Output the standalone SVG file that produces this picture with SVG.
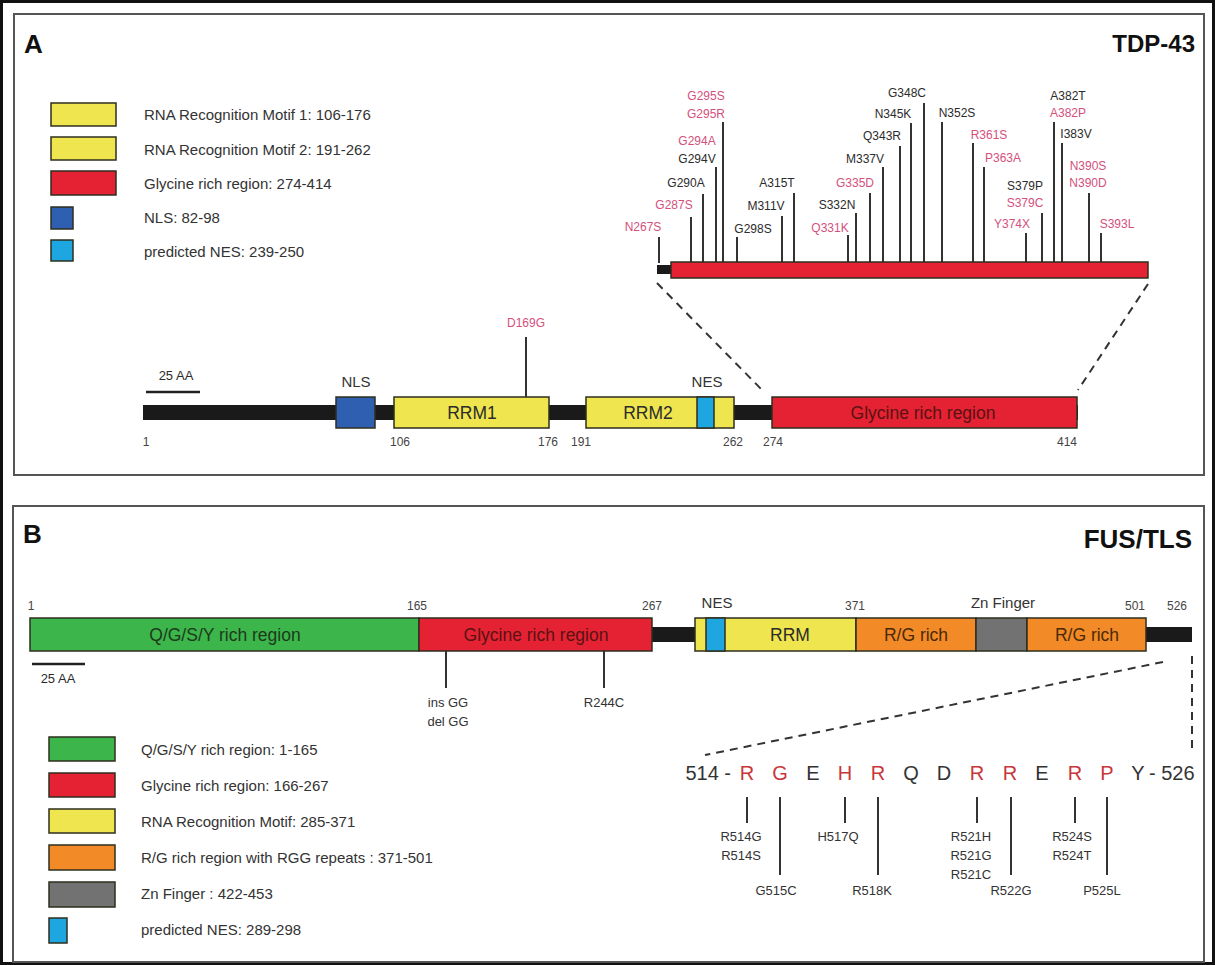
<svg xmlns="http://www.w3.org/2000/svg" width="1215" height="965" viewBox="0 0 1215 965">
<defs>
<style>
text{font-family:"Liberation Sans",Arial,sans-serif;fill:#2b2b2b}
.title{font-weight:bold;font-size:26px;fill:#111}
.leg{font-size:15px;fill:#333}
.box{stroke:#2e2e1e;stroke-width:1.5}
.yel{fill:#efe54f}
.red{fill:#e42233}
.blu{fill:#2f5fb0}
.cya{fill:#1ea6e0}
.grn{fill:#3cb54a}
.org{fill:#f28a28}
.gry{fill:#727272}
.blk{fill:#1a1a1a}
.dlab{font-size:17.5px;text-anchor:middle}
.num{font-size:12px;text-anchor:middle;fill:#444}
.lab{font-size:15px;text-anchor:middle;fill:#333}
.mA{font-size:12px;text-anchor:middle;fill:#2b2b2b}
.pk{fill:#d4507c}
.mB{font-size:13px;text-anchor:middle;fill:#333}
.seq{font-size:20px;text-anchor:middle;fill:#333}
.sr{fill:#c8363c}
.ml{stroke:#333;stroke-width:2;fill:none}
.dash{stroke:#333;stroke-width:2;stroke-dasharray:8 6;fill:none}
</style>
</defs>
<rect width="1215" height="965" fill="#fff"/>
<g id="frames" fill="none">
<rect x="1.5" y="1.5" width="1212" height="962" stroke="#111" stroke-width="3"/>
<rect x="14" y="14" width="1190" height="461" stroke="#555" stroke-width="2"/>
<rect x="13" y="506" width="1191" height="456" stroke="#555" stroke-width="2"/>
</g>
<g id="titles">
<text class="title" x="24" y="53">A</text>
<text class="title" x="1195" y="52" style="text-anchor:end;font-size:24px">TDP-43</text>
<text class="title" x="23" y="543">B</text>
<text class="title" x="1192" y="548" style="text-anchor:end">FUS/TLS</text>
</g>
<g id="legendA">
<g id="legA-rrm1"><rect class="box yel" x="51" y="103" width="65" height="23"/><text class="leg" x="144" y="120">RNA Recognition Motif 1: 106-176</text></g>
<g id="legA-rrm2"><rect class="box yel" x="51" y="137" width="65" height="23"/><text class="leg" x="144" y="155">RNA Recognition Motif 2: 191-262</text></g>
<g id="legA-gly"><rect class="box red" x="51" y="171" width="65" height="24"/><text class="leg" x="144" y="189">Glycine rich region: 274-414</text></g>
<g id="legA-nls"><rect class="box blu" x="51" y="207" width="22" height="22"/><text class="leg" x="144" y="223">NLS: 82-98</text></g>
<g id="legA-nes"><rect class="box cya" x="51" y="240" width="22" height="21"/><text class="leg" x="144" y="257">predicted NES: 239-250</text></g>
</g>
<g id="connectors">
<line class="ml" x1="526" y1="337" x2="526" y2="397"/>
<line class="dash" x1="657" y1="283" x2="764" y2="392"/>
<line class="dash" x1="1148" y1="284" x2="1078" y2="390"/>
<line class="ml" x1="659" y1="237" x2="659" y2="263"/>
<line class="ml" x1="691" y1="217" x2="691" y2="263"/>
<line class="ml" x1="703" y1="194" x2="703" y2="263"/>
<line class="ml" x1="716" y1="167" x2="716" y2="263"/>
<line class="ml" x1="723" y1="122" x2="723" y2="263"/>
<line class="ml" x1="737" y1="237" x2="737" y2="263"/>
<line class="ml" x1="782" y1="216" x2="782" y2="263"/>
<line class="ml" x1="794" y1="193" x2="794" y2="263"/>
<line class="ml" x1="848" y1="235" x2="848" y2="263"/>
<line class="ml" x1="856" y1="213" x2="856" y2="263"/>
<line class="ml" x1="870" y1="193" x2="870" y2="263"/>
<line class="ml" x1="883" y1="167" x2="883" y2="263"/>
<line class="ml" x1="900" y1="146" x2="900" y2="263"/>
<line class="ml" x1="911" y1="123" x2="911" y2="263"/>
<line class="ml" x1="924" y1="103" x2="924" y2="263"/>
<line class="ml" x1="942" y1="122" x2="942" y2="263"/>
<line class="ml" x1="973" y1="143" x2="973" y2="263"/>
<line class="ml" x1="984" y1="167" x2="984" y2="263"/>
<line class="ml" x1="1026" y1="233" x2="1026" y2="263"/>
<line class="ml" x1="1042" y1="213" x2="1042" y2="263"/>
<line class="ml" x1="1054" y1="122" x2="1054" y2="263"/>
<line class="ml" x1="1062" y1="143" x2="1062" y2="263"/>
<line class="ml" x1="1089" y1="193" x2="1089" y2="263"/>
<line class="ml" x1="1101" y1="233" x2="1101" y2="263"/>
<line class="ml" x1="446" y1="651" x2="446" y2="688"/>
<line class="ml" x1="604" y1="651" x2="604" y2="688"/>
<line class="dash" x1="1163" y1="662" x2="705" y2="755"/>
<line class="dash" x1="1192" y1="656" x2="1192" y2="753"/>
<line class="ml" x1="747" y1="797" x2="747" y2="823"/>
<line class="ml" x1="780" y1="797" x2="780" y2="875"/>
<line class="ml" x1="845" y1="797" x2="845" y2="823"/>
<line class="ml" x1="878" y1="797" x2="878" y2="875"/>
<line class="ml" x1="977" y1="797" x2="977" y2="823"/>
<line class="ml" x1="1011" y1="797" x2="1011" y2="875"/>
<line class="ml" x1="1075" y1="797" x2="1075" y2="823"/>
<line class="ml" x1="1107" y1="797" x2="1107" y2="875"/>
</g>
<g id="tdp43-protein">
<rect class="blk" x="143" y="405" width="935" height="15"/>
<g id="nls"><rect class="box blu" x="336" y="397" width="39" height="31"/><text class="lab" x="356" y="387">NLS</text></g>
<g id="rrm1"><rect class="box yel" x="394" y="397" width="155" height="31"/><text class="dlab" x="472" y="419">RRM1</text></g>
<g id="rrm2"><rect class="box yel" x="586" y="397" width="148" height="31"/><rect class="box cya" x="697" y="397" width="17" height="31"/><text class="dlab" x="648" y="419">RRM2</text><text class="lab" x="707" y="387">NES</text></g>
<g id="glyA"><rect class="box red" x="772" y="397" width="305" height="31"/><text class="dlab" x="923" y="419" style="fill:#5a1212">Glycine rich region</text></g>
<g id="scaleA"><line x1="146" y1="392" x2="200" y2="392" stroke="#222" stroke-width="2.5"/><text x="176" y="380" font-size="13" text-anchor="middle">25 AA</text></g>
<g id="numsA">
<text class="num" x="146" y="446">1</text>
<text class="num" x="400" y="446">106</text>
<text class="num" x="548" y="446">176</text>
<text class="num" x="581" y="446">191</text>
<text class="num" x="733" y="446">262</text>
<text class="num" x="773" y="446">274</text>
<text class="num" x="1067" y="446">414</text>
</g>
<g id="d169g"><text class="mA pk" x="526" y="327">D169G</text></g>
</g>
<g id="tdp43-zoom">
<rect class="blk" x="657" y="265" width="15" height="9"/>
<rect class="box red" x="671" y="262" width="477" height="16"/>
<g id="mutsA">
<text class="mA pk" x="643" y="231">N267S</text>
<text class="mA pk" x="674" y="209">G287S</text>
<text class="mA" x="686" y="187">G290A</text>
<text class="mA pk" x="697" y="145">G294A</text>
<text class="mA" x="697" y="163">G294V</text>
<text class="mA pk" x="706" y="100">G295S</text>
<text class="mA pk" x="706" y="118">G295R</text>
<text class="mA" x="753" y="233">G298S</text>
<text class="mA" x="766" y="210">M311V</text>
<text class="mA" x="777" y="187">A315T</text>
<text class="mA pk" x="830" y="232">Q331K</text>
<text class="mA" x="837" y="209">S332N</text>
<text class="mA pk" x="855" y="187">G335D</text>
<text class="mA" x="865" y="163">M337V</text>
<text class="mA" x="882" y="140">Q343R</text>
<text class="mA" x="893" y="118">N345K</text>
<text class="mA" x="907" y="97">G348C</text>
<text class="mA" x="957" y="117">N352S</text>
<text class="mA pk" x="989" y="139">R361S</text>
<text class="mA pk" x="1003" y="162">P363A</text>
<text class="mA pk" x="1012" y="228">Y374X</text>
<text class="mA" x="1025" y="190">S379P</text>
<text class="mA pk" x="1025" y="207">S379C</text>
<text class="mA" x="1068" y="100">A382T</text>
<text class="mA pk" x="1068" y="117">A382P</text>
<text class="mA" x="1076" y="138">I383V</text>
<text class="mA pk" x="1088" y="170">N390S</text>
<text class="mA pk" x="1088" y="187">N390D</text>
<text class="mA pk" x="1117" y="228">S393L</text>
</g>
</g>
<g id="fus-protein">
<rect class="blk" x="30" y="627" width="1162" height="15"/>
<g id="qgsy"><rect class="box grn" x="30" y="618" width="389" height="33"/><text class="dlab" x="225" y="641" style="fill:#1d3a1d">Q/G/S/Y rich region</text></g>
<g id="glyB"><rect class="box red" x="419" y="618" width="233" height="33"/><text class="dlab" x="536" y="641" style="fill:#5a1212">Glycine rich region</text></g>
<g id="rrmB"><rect class="box yel" x="695" y="618" width="161" height="33"/><rect class="box cya" x="706" y="618" width="19" height="33"/><text class="dlab" x="790" y="641">RRM</text><text class="lab" x="717" y="608">NES</text></g>
<g id="rg1"><rect class="box org" x="856" y="618" width="120" height="33"/><text class="dlab" x="916" y="641" style="fill:#4a2a05">R/G rich</text></g>
<g id="zn"><rect class="box gry" x="976" y="618" width="51" height="33"/><text class="lab" x="1003" y="608">Zn Finger</text></g>
<g id="rg2"><rect class="box org" x="1027" y="618" width="119" height="33"/><text class="dlab" x="1087" y="641" style="fill:#4a2a05">R/G rich</text></g>
<g id="scaleB"><line x1="32" y1="664" x2="85" y2="664" stroke="#222" stroke-width="2.5"/><text x="58" y="683" font-size="13" text-anchor="middle">25 AA</text></g>
<g id="numsB">
<text class="num" x="31" y="610">1</text>
<text class="num" x="417" y="610">165</text>
<text class="num" x="652" y="610">267</text>
<text class="num" x="855" y="610">371</text>
<text class="num" x="1135" y="610">501</text>
<text class="num" x="1177" y="610">526</text>
</g>
<g id="mutsB">
<text class="mB" x="448" y="707">ins GG</text>
<text class="mB" x="448" y="726">del GG</text>
<text class="mB" x="604" y="707">R244C</text>
</g>
</g>
<g id="legendB">
<g id="legB-qgsy"><rect class="box grn" x="49" y="737" width="66" height="24"/><text class="leg" x="141" y="755">Q/G/S/Y rich region: 1-165</text></g>
<g id="legB-gly"><rect class="box red" x="49" y="773" width="66" height="24"/><text class="leg" x="141" y="791">Glycine rich region: 166-267</text></g>
<g id="legB-rrm"><rect class="box yel" x="49" y="809" width="66" height="24"/><text class="leg" x="141" y="827">RNA Recognition Motif: 285-371</text></g>
<g id="legB-rg"><rect class="box org" x="49" y="845" width="66" height="25"/><text class="leg" x="141" y="863">R/G rich region with RGG repeats : 371-501</text></g>
<g id="legB-zn"><rect class="box gry" x="49" y="882" width="66" height="25"/><text class="leg" x="141" y="899">Zn Finger : 422-453</text></g>
<g id="legB-nes"><rect class="box cya" x="49" y="918" width="18" height="25"/><text class="leg" x="141" y="935">predicted NES: 289-298</text></g>
</g>
<g id="fus-sequence">
<text class="seq" x="731" y="780" style="text-anchor:end">514 -</text>
<text class="seq sr" x="747" y="780">R</text>
<text class="seq sr" x="780" y="780">G</text>
<text class="seq" x="813" y="780">E</text>
<text class="seq sr" x="845" y="780">H</text>
<text class="seq sr" x="878" y="780">R</text>
<text class="seq" x="911" y="780">Q</text>
<text class="seq" x="944" y="780">D</text>
<text class="seq sr" x="977" y="780">R</text>
<text class="seq sr" x="1010" y="780">R</text>
<text class="seq" x="1042" y="780">E</text>
<text class="seq sr" x="1075" y="780">R</text>
<text class="seq sr" x="1107" y="780">P</text>
<text class="seq" x="1138" y="780">Y</text>
<text class="seq" x="1149" y="780" style="text-anchor:start">- 526</text>
<g id="mutsSeq">
<text class="mB" x="741" y="841">R514G</text>
<text class="mB" x="741" y="860">R514S</text>
<text class="mB" x="776" y="895">G515C</text>
<text class="mB" x="838" y="841">H517Q</text>
<text class="mB" x="872" y="895">R518K</text>
<text class="mB" x="971" y="841">R521H</text>
<text class="mB" x="971" y="860">R521G</text>
<text class="mB" x="971" y="879">R521C</text>
<text class="mB" x="1011" y="895">R522G</text>
<text class="mB" x="1072" y="841">R524S</text>
<text class="mB" x="1072" y="860">R524T</text>
<text class="mB" x="1102" y="895">P525L</text>
</g>
</g>
</svg>
